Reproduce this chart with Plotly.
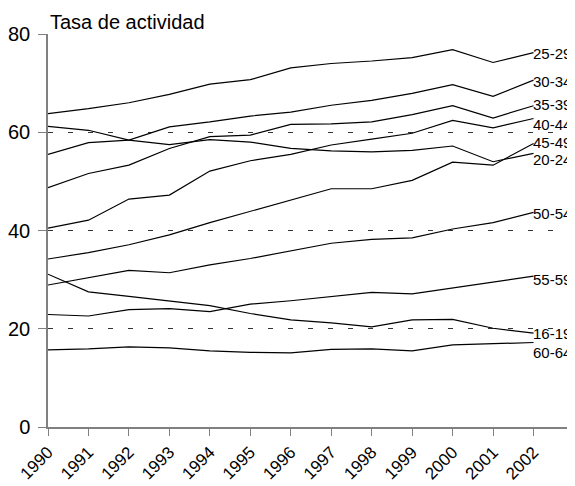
import plotly.graph_objects as go

years = list(range(1990, 2003))
tick_years = list(range(1990, 2004))
tick_labels = [str(y) for y in range(1990, 2003)] + [""]

series = {
    "25-29": [63.8, 64.8, 66.0, 67.7, 69.8, 70.7, 73.1, 74.0, 74.5, 75.2, 76.8, 74.2, 76.2],
    "30-34": [55.5, 57.9, 58.4, 61.1, 62.1, 63.3, 64.1, 65.5, 66.5, 67.9, 69.7, 67.3, 70.6],
    "35-39": [48.7, 51.6, 53.3, 56.7, 59.1, 59.4, 61.6, 61.7, 62.1, 63.6, 65.4, 62.9, 65.4],
    "40-44": [40.5, 42.1, 46.4, 47.2, 52.1, 54.2, 55.5, 57.4, 58.6, 59.8, 62.4, 60.9, 62.8],
    "45-49": [34.2, 35.5, 37.1, 39.1, 41.6, 43.9, 46.2, 48.5, 48.5, 50.2, 53.9, 53.3, 57.7],
    "20-24": [61.2, 60.4, 58.4, 57.5, 58.5, 58.0, 56.7, 56.2, 56.0, 56.3, 57.2, 54.0, 55.7],
    "50-54": [28.9, 30.4, 31.9, 31.4, 33.0, 34.3, 35.8, 37.4, 38.2, 38.5, 40.3, 41.6, 43.7],
    "55-59": [22.9, 22.6, 23.9, 24.1, 23.5, 25.0, 25.7, 26.6, 27.4, 27.1, 28.3, 29.6, 30.7],
    "16-19": [31.1, 27.5, 26.6, 25.6, 24.7, 23.1, 21.8, 21.2, 20.4, 21.8, 21.9, 20.1, 19.1],
    "60-64": [15.7, 15.9, 16.3, 16.1, 15.5, 15.2, 15.1, 15.8, 15.9, 15.5, 16.7, 17.0, 17.2],
}

# vertical pixel nudges for the end labels (layout only)
label_shift = {"25-29": -1, "30-34": -1, "35-39": 1, "40-44": -6, "45-49": 1,
               "20-24": -6, "50-54": -1, "55-59": -3, "16-19": 0, "60-64": -10}

FONT = "Liberation Sans, Arial, sans-serif"

fig = go.Figure()
for name, vals in series.items():
    fig.add_trace(go.Scatter(x=years, y=vals, mode="lines", name=name,
                             line=dict(color="black", width=1.2),
                             showlegend=False, hoverinfo="skip"))
    fig.add_annotation(x=years[-1], y=vals[-1], text=name, xref="x", yref="y",
                       xanchor="left", yanchor="middle", showarrow=False,
                       xshift=-2, yshift=label_shift[name], borderpad=0,
                       font=dict(family=FONT, size=15, color="black"))

fig.add_annotation(x=0, y=1, xref="paper", yref="paper", text="Tasa de actividad",
                   xanchor="left", yanchor="bottom", showarrow=False, yshift=-1,
                   font=dict(family=FONT, size=20, color="black"))

# page body has an 8px default margin, so the figure is sized to fit the window
fig.update_layout(
    width=567, height=478,
    margin=dict(l=40, r=1, t=26, b=59, autoexpand=False),
    plot_bgcolor="white", paper_bgcolor="white",
    font=dict(family=FONT, size=18, color="black"),
)
fig.update_xaxes(range=[1990, 2003], tickvals=tick_years, ticktext=tick_labels,
                 tickangle=-45, ticks="outside", ticklen=7, tickcolor="#808080",
                 showline=True, linecolor="#808080", linewidth=1.5, automargin=False,
                 showgrid=False, zeroline=False, tickfont=dict(size=17))
fig.update_yaxes(range=[0, 80], tickvals=[0, 20, 40, 60, 80], ticks="outside",
                 ticklen=8, tickcolor="#808080", showline=True, linecolor="#808080",
                 linewidth=1.5, showgrid=True, gridcolor="#333333", gridwidth=1,
                 automargin=False, ticklabelstandoff=4,
                 griddash="5px,15px", zeroline=False, tickfont=dict(size=20))

fig.write_html("out.html")
